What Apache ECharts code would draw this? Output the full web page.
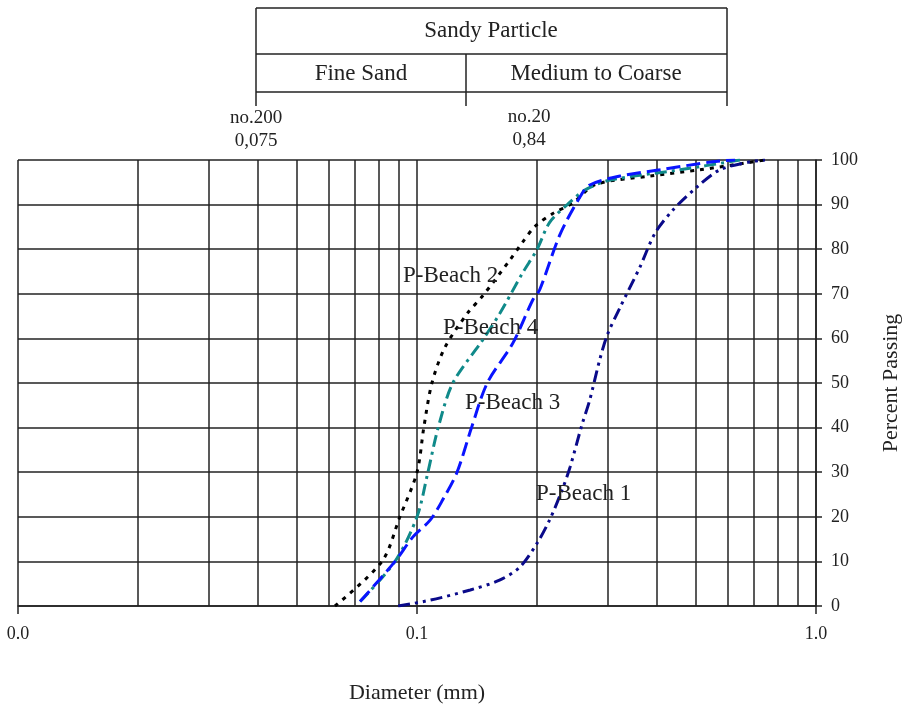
<!DOCTYPE html>
<html>
<head>
<meta charset="utf-8">
<script src="https://cdn.jsdelivr.net/npm/echarts@6/dist/echarts.min.js"></script>
<style>html,body{margin:0;padding:0;background:#fff;}#c{width:908px;height:706px;}</style>
</head>
<body>
<div id="c"></div>
<script>
// Data (diameter mm, percent passing)
var beach1 = [[0.0897,0],[0.1078,1.3],[0.136,3.6],[0.161,5.8],[0.181,8.7],[0.2,14.1],[0.215,19.3],[0.231,26],[0.242,31.2],[0.259,40.6],[0.271,46.2],[0.287,55.2],[0.300,60.8],[0.323,67],[0.362,76],[0.395,83.6],[0.438,88.8],[0.504,94],[0.574,97.8],[0.684,99.6],[0.745,100]];
var beach2 = [[0.0623,0],[0.0817,10],[0.0906,20],[0.1,30],[0.104,40],[0.109,50],[0.1175,58],[0.134,65.7],[0.146,69.5],[0.171,77.6],[0.184,81.6],[0.198,85.2],[0.219,88],[0.246,90.4],[0.28,94.5],[0.384,96.4],[0.512,97.8],[0.664,99.3],[0.745,100]];
var beach3 = [[0.072,1],[0.0881,10],[0.0977,15.5],[0.108,19.3],[0.116,23.8],[0.126,30],[0.137,40],[0.150,50],[0.174,59],[0.195,68.6],[0.203,70.9],[0.228,83.2],[0.256,91.7],[0.271,94.4],[0.323,96.4],[0.406,97.8],[0.55,99.6],[0.627,100]];
var beach4 = [[0.072,1],[0.0881,10],[0.1,20],[0.1065,30],[0.113,40],[0.123,50],[0.146,59.6],[0.1615,65.7],[0.184,74.7],[0.2,80],[0.215,86],[0.238,90],[0.264,93.3],[0.305,95.5],[0.456,97.8],[0.645,100]];
var minorGrid = [0.02,0.03,0.04,0.05,0.06,0.07,0.08,0.09,0.2,0.3,0.4,0.5,0.6,0.7,0.8,0.9];
var seriesNames = ['P-Beach 1','P-Beach 2','P-Beach 3','P-Beach 4'];
var headerTitle = 'Sandy Particle';
var headerCols = ['Fine Sand','Medium to Coarse'];
var sieveLabels = [['no.200','0,075'],['no.20','0,84']];

var FONT = '"Liberation Serif", "Times New Roman", serif';
var chart = echarts.init(document.getElementById('c'));

function txt(x, y, s, size) {
  return {type:'text', x:x, y:y, style:{text:s, font:size+'px '+FONT, fill:'#222', textAlign:'center', textVerticalAlign:'middle'}};
}
function ln(x1,y1,x2,y2){
  return {type:'line', shape:{x1:x1,y1:y1,x2:x2,y2:y2}, style:{stroke:'#222', lineWidth:1.5}};
}

var graphics = [
  ln(256,8,727,8), ln(256,54,727,54), ln(256,92,727,92),
  ln(256,8,256,106), ln(727,8,727,106), ln(466,54,466,106),
  txt(491,31,headerTitle,23), txt(361,74,headerCols[0],23), txt(596,74,headerCols[1],23),
  txt(256,118,sieveLabels[0][0],19), txt(256,141,sieveLabels[0][1],19),
  txt(529,117,sieveLabels[1][0],19), txt(529,140,sieveLabels[1][1],19)
];

function lbl(x,y,s){
  return {type:'text', x:x, y:y, z:100, style:{text:s, font:'23px '+FONT, fill:'#222', textAlign:'left', textVerticalAlign:'middle'}};
}
graphics.push(lbl(403,276,seriesNames[1]));
graphics.push(lbl(443,328,seriesNames[3]));
graphics.push(lbl(465,403,seriesNames[2]));
graphics.push(lbl(536,494,seriesNames[0]));

var option = {
  animation:false,
  backgroundColor:'#fff',
  grid:{left:18, right:92, top:160, bottom:100, containLabel:false, outerBoundsMode:'none'},
  xAxis:{
    type:'log', logBase:10, min:0.01, max:1,
    name:'Diameter (mm)', nameLocation:'middle', nameGap:76,
    nameTextStyle:{fontFamily:FONT, fontSize:22, color:'#222'},
    axisLine:{show:true, lineStyle:{color:'#222', width:1.5}},
    axisTick:{show:true, length:8, lineStyle:{color:'#222', width:1.5}},
    axisLabel:{fontFamily:FONT, fontSize:18, color:'#222', margin:19, formatter:function(v){return v.toFixed(1);}},
    splitLine:{show:true, lineStyle:{color:'#222', width:1.5}},
    minorTick:{show:false}, minorSplitLine:{show:false}
  },
  yAxis:{
    type:'value', position:'right', min:0, max:100, interval:10,
    name:'Percent Passing', nameLocation:'middle', nameGap:64, nameRotate:90,
    nameTextStyle:{fontFamily:FONT, fontSize:22, color:'#222'},
    axisLine:{show:true, lineStyle:{color:'#222', width:1.5}},
    axisTick:{show:true, length:6, lineStyle:{color:'#222', width:1.5}},
    axisLabel:{fontFamily:FONT, fontSize:18, color:'#222', margin:15},
    splitLine:{show:true, lineStyle:{color:'#222', width:1.5}}
  },
  series:[
    {name:seriesNames[1], type:'line', data:beach2, smooth:0.3, showSymbol:false, z:5,
     lineStyle:{color:'#000', width:3, type:[4,6]},
     markLine:{silent:true, symbol:'none', label:{show:false}, animation:false,
       lineStyle:{color:'#222', width:1.5, type:'solid'},
       data:minorGrid.map(function(v){return {xAxis:v};})}},
    {name:seriesNames[3], type:'line', data:beach4, smooth:0.3, showSymbol:false, z:6,
     lineStyle:{color:'#108a8a', width:3, type:[12,5,3,5]}},
    {name:seriesNames[2], type:'line', data:beach3, smooth:0.3, showSymbol:false, z:7,
     lineStyle:{color:'#0a14ff', width:3, type:[14,6]}},
    {name:seriesNames[0], type:'line', data:beach1, smooth:0.3, showSymbol:false, z:8,
     lineStyle:{color:'#0a0a8a', width:3, type:[12,5,3,5,3,5]}}
  ],
  graphic:graphics
};
chart.setOption(option);
</script>
</body>
</html>
